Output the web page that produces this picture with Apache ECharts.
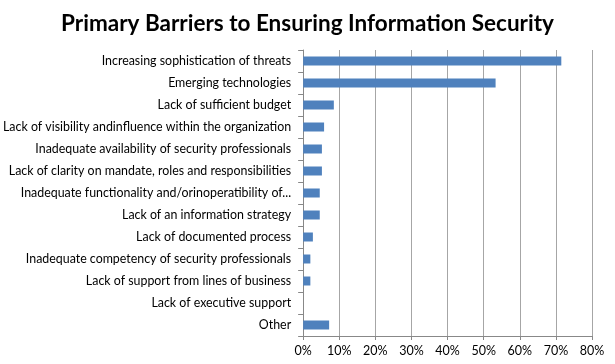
<!DOCTYPE html>
<html><head><meta charset="utf-8">
<script src="https://cdn.jsdelivr.net/npm/echarts@6/dist/echarts.min.js"></script>
<style>html,body{margin:0;padding:0;background:#fff}#c{width:615px;height:364px}</style>
</head><body><div id="c"></div>
<script>
const categories = [
  "Increasing sophistication of threats",
  "Emerging technologies",
  "Lack of sufficient budget",
  "Lack of visibility andinfluence within the organization",
  "Inadequate availability of security professionals",
  "Lack of clarity on mandate, roles and responsibilities",
  "Inadequate functionality and/orinoperatibility of...",
  "Lack of an information strategy",
  "Lack of documented process",
  "Inadequate competency of security professionals",
  "Lack of support from lines of business",
  "Lack of executive support",
  "Other"
];
const values = [71.5, 53.3, 8.5, 5.8, 5.2, 5.2, 4.6, 4.6, 2.7, 2.0, 2.0, 0, 7.2];
const xTicks = [0, 10, 20, 30, 40, 50, 60, 70, 80];

const chart = echarts.init(document.getElementById('c'), null, {renderer: 'canvas'});
chart.setOption({
  animation: false,
  title: {
    text: "Primary Barriers to Ensuring Information Security",
    left: 'center', top: 7,
    textStyle: {fontFamily: 'Lato', fontWeight: 'bold', fontSize: 22.5, color: '#000'}
  },
  grid: {left: 303, right: 23, top: 50, bottom: 28, containLabel: false},
  xAxis: {
    type: 'value', min: xTicks[0], max: xTicks[xTicks.length - 1], interval: 10,
    axisLine: {show: true, lineStyle: {color: '#888'}},
    axisTick: {show: true, lineStyle: {color: '#888'}, length: 4},
    splitLine: {show: true, lineStyle: {color: '#a6a6a6', width: 1}},
    axisLabel: {formatter: v => v + '%', color: '#000', fontFamily: 'Lato', fontSize: 12.5, margin: 8}
  },
  yAxis: {
    type: 'category', inverse: true, data: categories,
    axisLine: {show: true, lineStyle: {color: '#888'}},
    axisTick: {show: true, lineStyle: {color: '#888'}, length: 5},
    axisLabel: {color: '#000', fontFamily: 'Lato', fontSize: 12.4, margin: 12}
  },
  series: [{
    type: 'bar', data: values, barWidth: 9,
    itemStyle: {color: '#4f81bd'}
  }]
});
</script></body></html>
